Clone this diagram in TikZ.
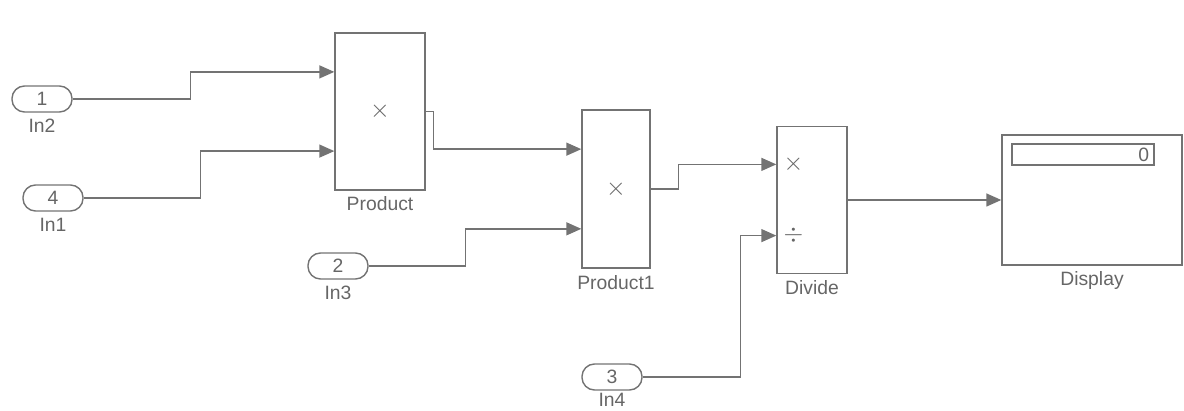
\documentclass[tikz,border=0pt]{standalone}
\usepackage{fontspec}
\setmainfont{Liberation Sans}
\usetikzlibrary{arrows.meta, positioning}
\tikzset{every node/.append style={align=center, inner sep=0pt}}

\begin{document}
\begin{tikzpicture}[
    x=0.02cm, y=-0.02cm,
    font=\fontsize{11}{13}\selectfont, black!60,
    blk/.style={rectangle, draw=black!55, line width=0.8pt},
    port/.style={rectangle, rounded corners=0.25cm, draw=black!55, line width=0.8pt,
        minimum width=1.2cm, minimum height=0.52cm},
    sym/.style={font=\Large},
    a/.style={-{Triangle[length=3mm, width=2.6mm]}, line width=0.8pt, black!55}
]
\useasboundingbox (0,0) rectangle (1184,411);
% inports
\node[port, label={[inner sep=3.5pt]below:In2}] (in2) at (42,99) {1};
\node[port, label={[inner sep=3.5pt]below:In1}] (in1) at (53,198) {4};
\node[port, label={[inner sep=3.5pt]below:In3}] (in3) at (338,266) {2};
\node[port, label={[inner sep=1.5pt]below:In4}] (in4) at (612,377) {3};
% blocks
\node[blk, minimum width=1.8cm, minimum height=3.14cm, label={[inner sep=3pt]below:Product}] (prod) at (380,111.5) {\Large$\times$};
\node[blk, minimum width=1.36cm, minimum height=3.16cm, label={[inner sep=3.5pt]below:Product1}] (prod1) at (616,189) {\Large$\times$};
\node[blk, minimum width=1.4cm, minimum height=2.94cm, label={[inner sep=3.5pt]below:Divide}] (div) at (812,200) {};
\node[blk, minimum width=3.6cm, minimum height=2.6cm, label={[inner sep=3pt]below:Display}] (disp) at (1092,200) {};
\node[blk, line width=0.6pt, minimum width=2.84cm, minimum height=0.42cm] (field) at (1083,154.5) {};
\node[anchor=east] (val) at ([xshift=-0.1cm]field.east) {0};
% input points
\path (prod.north west) -- (prod.south west) coordinate[pos=0.25] (p1) coordinate[pos=0.75] (p2);
\path (prod1.north west) -- (prod1.south west) coordinate[pos=0.25] (q1) coordinate[pos=0.75] (q2);
\path (div.north west) -- (div.south west) coordinate[pos=0.26] (d1) coordinate[pos=0.74] (d2);
\node[sym, right=0.14cm of d1] (mul) {$\times$};
\node[sym, right=0.14cm of d2] (dvd) {$\div$};
% signal lines
\draw[a] (in2.east) -- ++(118,0) |- (p1);
\draw[a] (in1.east) -- ++(117,0) |- (p2);
\draw[a] (prod.east) -- ++(8,0) |- (q1);
\draw[a] (in3.east) -- ++(97,0) |- (q2);
\draw[a] (prod1.east) -- ++(28,0) |- (d1);
\draw[a] (in4.east) -- ++(98,0) |- (d2);
\draw[a] (div.east) -- (disp.west);
\end{tikzpicture}
\end{document}
